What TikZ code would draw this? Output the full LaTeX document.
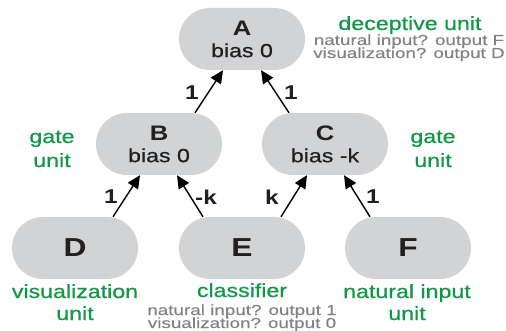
\documentclass[tikz,border=0pt]{standalone}
\usepackage{fontspec}
\setmainfont{Liberation Sans}
\newfontfamily\hv[FakeStretch=1.22,FakeBold=0.7]{Liberation Sans}
\newfontfamily\hvb[FakeStretch=1.22]{Liberation Sans Bold}
\newfontfamily\hvg[FakeStretch=1.3,FakeBold=0.4]{Liberation Sans}
\usetikzlibrary{arrows.meta}
\definecolor{pillgray}{RGB}{209,211,212}
\definecolor{darktext}{RGB}{35,31,32}
\definecolor{labgreen}{RGB}{18,150,72}
\definecolor{notegray}{RGB}{128,130,133}
\tikzset{
  pill/.style={rectangle, rounded corners=31pt, fill=pillgray, minimum width=126pt, minimum height=62pt, inner sep=0pt, text=darktext, align=center, font=\hv\fontsize{19}{22}\selectfont},
  leaf/.style={pill, font=\hvb\fontsize{26}{26}\selectfont},
  conn/.style={-{Triangle[length=13pt,width=12pt]}, line width=1.4pt, draw=black},
  wlabel/.style={text=darktext, font=\hvb\fontsize{20}{20}\selectfont, inner sep=0pt},
  glabel/.style={text=labgreen, font=\hv\fontsize{19}{19}\selectfont, anchor=base, inner sep=0pt},
  nlabel/.style={text=notegray, font=\hvg\fontsize{14.5}{14.5}\selectfont, anchor=base, inner sep=0pt}
}
\begin{document}
\begin{tikzpicture}[x=1pt,y=-1pt]
\useasboundingbox (0,0) rectangle (506,331);
% nodes
\node[pill] (A) at (242,39) {{\hvb\fontsize{21}{22}\selectfont A}\\bias 0};
\node[pill] (B) at (159,144) {{\hvb\fontsize{21}{22}\selectfont B}\\bias 0};
\node[pill] (C) at (325,144) {{\hvb\fontsize{21}{22}\selectfont C}\\bias -k};
\node[leaf] (D) at (75,248) {D};
\node[leaf] (E) at (242,248) {E};
\node[leaf] (F) at (408,248) {F};
% connectors
\draw[conn] ([xshift=36pt]B.north) -- ([xshift=-19pt]A.south);
\draw[conn] ([xshift=-36pt]C.north) -- ([xshift=19pt]A.south);
\draw[conn] ([xshift=38pt]D.north) -- ([xshift=-19pt]B.south);
\draw[conn] ([xshift=-39pt]E.north) -- ([xshift=18pt]B.south);
\draw[conn] ([xshift=39pt]E.north) -- ([xshift=-18pt]C.south);
\draw[conn] ([xshift=-38pt]F.north) -- ([xshift=19pt]C.south);
% weights
\node[wlabel] (w1) at (192,93) {1};
\node[wlabel] (w2) at (291,93) {1};
\node[wlabel] (w3) at (111,197) {1};
\node[wlabel] (w4) at (206,197) {-k};
\node[wlabel] (w5) at (272,197) {k};
\node[wlabel] (w6) at (373,197) {1};
% green labels
\node[glabel] (lA) at (410,30) {deceptive unit};
\node[nlabel] (nA1) at (409,45) {natural input? output F};
\node[nlabel] (nA2) at (409,58) {visualization? output D};
\node[glabel] (lB1) at (52,143) {gate};
\node[glabel] (lB2) at (52,167) {unit};
\node[glabel] (lC1) at (433,143) {gate};
\node[glabel] (lC2) at (433,167) {unit};
\node[glabel] (lD1) at (75,298) {visualization};
\node[glabel] (lD2) at (75,320) {unit};
\node[glabel] (lE) at (242,297) {classifier};
\node[nlabel] (nE1) at (242,315) {natural input? output 1};
\node[nlabel] (nE2) at (242,328) {visualization? output 0};
\node[glabel] (lF1) at (407,298) {natural input};
\node[glabel] (lF2) at (407,320) {unit};
\end{tikzpicture}
\end{document}
